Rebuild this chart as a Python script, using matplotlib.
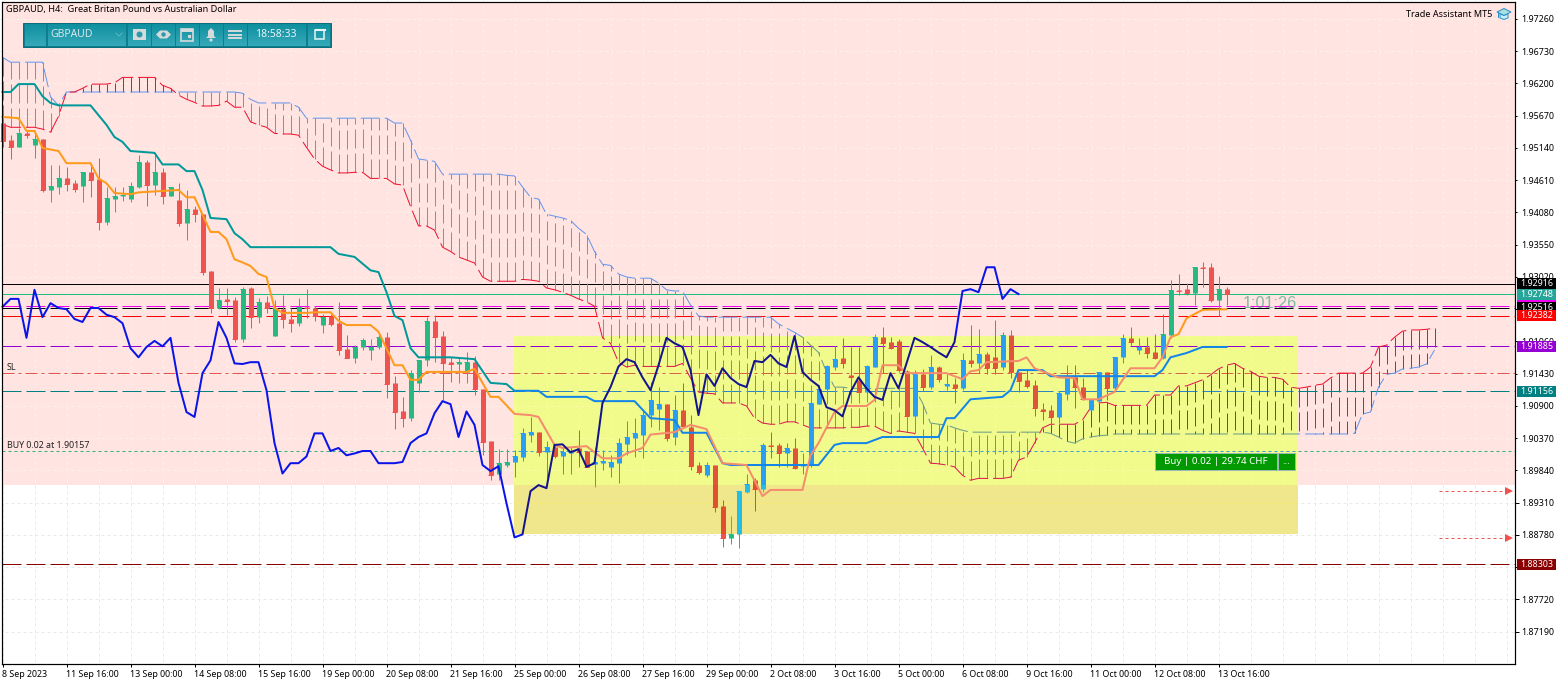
import numpy as np
import matplotlib
matplotlib.use('Agg')
import matplotlib.pyplot as plt
from matplotlib.patches import Rectangle, Polygon, Circle

plt.rcParams['font.family'] = ['Noto Sans', 'DejaVu Sans']
plt.rcParams['lines.scale_dashes'] = False

W, H = 1567, 685
PX = 0.72   # one screen pixel in points at dpi 100

# ----- candles, one entry per H4 bar
candle_open = [
    1.9555,1.9527,1.9516,1.9538,1.9519,1.9529,1.9445,1.9450,1.9465,1.9456,
    1.9451,1.9475,1.9463,1.9392,1.9430,1.9435,1.9430,1.9450,1.9491,1.9453,
    1.9475,1.9435,1.9428,1.9390,1.9413,1.9405,1.9312,1.9251,1.9266,1.9264,
    1.9200,1.9284,1.9236,1.9261,1.9205,1.9249,1.9233,1.9226,1.9253,1.9251,
    1.9223,1.9238,1.9226,1.9184,1.9169,1.9187,1.9182,1.9187,1.9203,1.9128,
    1.9081,1.9070,1.9128,1.9165,1.9230,1.9205,1.9162,1.9159,1.9146,1.9162,
    1.9118,1.9032,1.8979,1.8993,1.8998,1.9006,1.9043,1.9047,1.9014,1.9022,
    1.9007,1.9012,1.9021,1.9016,1.8995,1.8996,1.8990,1.8996,1.9027,1.9037,
    1.9043,1.9075,1.9085,1.9093,1.9039,1.9083,1.9055,1.8993,1.8976,1.8993,
    1.8925,1.8873,1.8880,1.8948,1.8968,1.8953,1.9026,1.9026,1.9012,1.9021,
    1.8991,1.8993,1.9093,1.9118,1.9154,1.9169,1.9141,1.9133,1.9113,1.9154,
    1.9203,1.9195,1.9197,1.9147,1.9073,1.9142,1.9121,1.9154,1.9123,1.9126,
    1.9120,1.9165,1.9160,1.9175,1.9170,1.9154,1.9207,1.9146,1.9133,1.9124,
    1.9085,1.9083,1.9072,1.9110,1.9137,1.9121,1.9083,1.9098,1.9146,1.9120,
    1.9170,1.9202,1.9182,1.9187,1.9178,1.9169,1.9207,1.9281,1.9282,1.9276,
    1.9318,1.9318,1.9264,1.9282]
candle_high = [
    1.9560,1.9535,1.9547,1.9543,1.9540,1.9529,1.9486,1.9486,1.9483,1.9461,
    1.9475,1.9486,1.9497,1.9450,1.9450,1.9450,1.9458,1.9502,1.9494,1.9502,
    1.9481,1.9450,1.9456,1.9445,1.9418,1.9405,1.9312,1.9284,1.9284,1.9269,
    1.9286,1.9286,1.9267,1.9271,1.9264,1.9272,1.9251,1.9267,1.9282,1.9254,
    1.9241,1.9241,1.9261,1.9207,1.9190,1.9202,1.9200,1.9208,1.9212,1.9139,
    1.9105,1.9149,1.9165,1.9236,1.9240,1.9213,1.9170,1.9170,1.9178,1.9172,
    1.9118,1.9032,1.9019,1.9019,1.9017,1.9054,1.9072,1.9047,1.9032,1.9026,
    1.9022,1.9022,1.9050,1.9016,1.9022,1.9017,1.9009,1.9037,1.9065,1.9070,
    1.9083,1.9129,1.9121,1.9093,1.9108,1.9128,1.9075,1.8998,1.8998,1.8993,
    1.8935,1.8910,1.8950,1.8979,1.8971,1.9029,1.9047,1.9029,1.9029,1.9037,
    1.9012,1.9095,1.9124,1.9157,1.9188,1.9202,1.9187,1.9187,1.9157,1.9208,
    1.9220,1.9203,1.9200,1.9149,1.9149,1.9151,1.9174,1.9155,1.9142,1.9136,
    1.9177,1.9223,1.9216,1.9178,1.9231,1.9211,1.9215,1.9146,1.9149,1.9133,
    1.9095,1.9091,1.9115,1.9157,1.9157,1.9136,1.9102,1.9146,1.9146,1.9170,
    1.9208,1.9220,1.9202,1.9203,1.9208,1.9241,1.9297,1.9307,1.9292,1.9318,
    1.9326,1.9325,1.9303,1.9285]
candle_low = [
    1.9516,1.9496,1.9516,1.9530,1.9497,1.9441,1.9425,1.9438,1.9443,1.9441,
    1.9425,1.9433,1.9379,1.9387,1.9409,1.9427,1.9425,1.9448,1.9418,1.9436,
    1.9422,1.9435,1.9386,1.9363,1.9393,1.9305,1.9243,1.9249,1.9240,1.9195,
    1.9195,1.9218,1.9226,1.9243,1.9205,1.9218,1.9212,1.9221,1.9235,1.9230,
    1.9210,1.9221,1.9174,1.9169,1.9160,1.9182,1.9165,1.9184,1.9103,1.9052,
    1.9055,1.9065,1.9113,1.9155,1.9162,1.9100,1.9129,1.9128,1.9128,1.9108,
    1.9009,1.8968,1.8968,1.8990,1.8973,1.8999,1.9031,1.9007,1.8971,1.9004,
    1.8979,1.8979,1.8990,1.8990,1.8957,1.8984,1.8973,1.8963,1.9009,1.9006,
    1.9004,1.9055,1.9050,1.9032,1.9026,1.9055,1.8984,1.8979,1.8973,1.8916,
    1.8858,1.8863,1.8857,1.8947,1.8917,1.8948,1.9004,1.8990,1.8990,1.8986,
    1.8979,1.8990,1.9093,1.9116,1.9149,1.9152,1.9119,1.9113,1.9113,1.9154,
    1.9144,1.9184,1.9146,1.9073,1.9073,1.9115,1.9118,1.9129,1.9116,1.9095,
    1.9116,1.9154,1.9144,1.9142,1.9142,1.9149,1.9136,1.9113,1.9119,1.9073,
    1.9067,1.9059,1.9062,1.9100,1.9087,1.9100,1.9081,1.9097,1.9100,1.9116,
    1.9160,1.9190,1.9175,1.9169,1.9167,1.9167,1.9202,1.9272,1.9272,1.9256,
    1.9285,1.9261,1.9238,1.9256]
candle_close = [
    1.9525,1.9516,1.9538,1.9535,1.9529,1.9445,1.9451,1.9465,1.9455,1.9446,
    1.9475,1.9461,1.9392,1.9431,1.9435,1.9436,1.9451,1.9491,1.9453,1.9475,
    1.9435,1.9450,1.9390,1.9413,1.9405,1.9310,1.9251,1.9264,1.9263,1.9200,
    1.9282,1.9236,1.9261,1.9251,1.9251,1.9233,1.9226,1.9253,1.9251,1.9238,
    1.9236,1.9225,1.9182,1.9169,1.9187,1.9198,1.9187,1.9203,1.9126,1.9080,
    1.9070,1.9144,1.9165,1.9230,1.9203,1.9160,1.9159,1.9162,1.9162,1.9118,
    1.9031,1.8976,1.8996,1.8998,1.9007,1.9045,1.9047,1.9014,1.9022,1.9007,
    1.9014,1.9014,1.9014,1.8990,1.8998,1.8999,1.8998,1.9029,1.9039,1.9045,
    1.9076,1.9100,1.9093,1.9037,1.9083,1.9057,1.8991,1.8981,1.8993,1.8924,
    1.8873,1.8880,1.8950,1.8961,1.8953,1.9026,1.9024,1.9012,1.9021,1.8988,
    1.8993,1.9095,1.9118,1.9155,1.9167,1.9160,1.9137,1.9113,1.9155,1.9203,
    1.9193,1.9185,1.9149,1.9073,1.9142,1.9121,1.9154,1.9134,1.9126,1.9120,
    1.9165,1.9160,1.9175,1.9152,1.9152,1.9207,1.9146,1.9131,1.9123,1.9086,
    1.9081,1.9072,1.9111,1.9137,1.9121,1.9102,1.9102,1.9146,1.9120,1.9170,
    1.9202,1.9195,1.9187,1.9177,1.9169,1.9208,1.9281,1.9279,1.9276,1.9318,
    1.9316,1.9264,1.9282,1.9274]

# ----- ichimoku lines, kijun and tenkan kept at the bars where they turn
kijun_bar = [0,1,2,4,5,6,7,11,12,13,14,15,16,19,20,22,23,24,25,26,28,29,30,31,41,42,44,46,47,48,49,50,51,52,56,59,61,63,64,67,68,73,74,79,81,84,85,88,90,91,102,104,105,108,110,117,118,119,121,125,126,127,130,131,144,145,146,148,150,153]
kijun_price = [1.9606,1.9606,1.9619,1.9619,1.9599,1.9588,1.9584,1.9584,1.9568,1.9552,1.9532,1.9524,1.9509,1.9506,1.9487,1.9487,1.9476,1.9476,1.9445,1.9399,1.9397,1.9374,1.9364,1.9351,1.9351,1.9340,1.9335,1.9313,1.9310,1.9277,1.9238,1.9231,1.9185,1.9170,1.9170,1.9167,1.9128,1.9126,1.9115,1.9115,1.9105,1.9105,1.9098,1.9098,1.9070,1.9067,1.9046,1.9046,1.8996,1.8993,1.8993,1.9026,1.9029,1.9029,1.9039,1.9039,1.9070,1.9070,1.9101,1.9105,1.9116,1.9149,1.9149,1.9139,1.9139,1.9149,1.9170,1.9177,1.9187,1.9187]
tenkan_bar = [0,2,3,4,5,7,8,11,12,13,14,16,17,22,23,24,26,27,28,29,30,31,32,33,34,35,38,39,41,42,43,46,47,49,50,51,52,53,58,59,61,62,64,66,67,69,70,73,75,77,78,80,81,84,86,88,90,93,95,96,100,101,102,104,105,108,109,110,112,113,118,120,121,122,123,127,128,129,132,134,135,137,139,141,144,145,146,147,148,150,153]
tenkan_price = [1.9565,1.9563,1.9542,1.9542,1.9514,1.9509,1.9489,1.9489,1.9464,1.9456,1.9440,1.9438,1.9441,1.9445,1.9433,1.9433,1.9376,1.9376,1.9364,1.9331,1.9326,1.9320,1.9307,1.9302,1.9251,1.9243,1.9243,1.9244,1.9244,1.9230,1.9223,1.9223,1.9212,1.9157,1.9157,1.9133,1.9133,1.9146,1.9146,1.9151,1.9105,1.9105,1.9077,1.9075,1.9072,1.9026,1.9021,1.9024,1.9004,1.9004,1.9012,1.9021,1.9043,1.9047,1.9059,1.9052,1.8996,1.8993,1.8942,1.8952,1.8952,1.9009,1.9029,1.9080,1.9090,1.9090,1.9100,1.9157,1.9157,1.9144,1.9144,1.9134,1.9147,1.9149,1.9162,1.9164,1.9170,1.9152,1.9137,1.9136,1.9101,1.9101,1.9113,1.9152,1.9152,1.9170,1.9203,1.9208,1.9234,1.9248,1.9249]
chikou_price = [
    1.9253,1.9266,1.9266,1.9202,1.9281,1.9236,1.9259,1.9251,1.9249,1.9233,
    1.9228,1.9251,1.9251,1.9240,1.9236,1.9226,1.9185,1.9170,1.9187,1.9197,
    1.9188,1.9202,1.9128,1.9080,1.9072,1.9144,1.9165,1.9228,1.9202,1.9160,
    1.9159,1.9162,1.9162,1.9116,1.9029,1.8979,1.8996,1.8996,1.9007,1.9045,
    1.9045,1.9016,1.9021,1.9009,1.9012,1.9016,1.9016,1.8996,1.8996,1.8996,
    1.8998,1.9029,1.9039,1.9045,1.9078,1.9098,1.9093,1.9039,1.9081,1.9059,
    1.8993,1.8983,1.8991,1.8930,1.8874,1.8879,1.8950,1.8960,1.8955,1.9026,
    1.9027,1.9014,1.9019,1.8990,1.8996,1.9095,1.9121,1.9155,1.9167,1.9162,
    1.9137,1.9116,1.9157,1.9202,1.9193,1.9187,1.9149,1.9075,1.9142,1.9123,
    1.9152,1.9136,1.9126,1.9121,1.9164,1.9162,1.9174,1.9160,1.9154,1.9205,
    1.9146,1.9133,1.9123,1.9088,1.9083,1.9073,1.9113,1.9137,1.9119,1.9105,
    1.9100,1.9144,1.9119,1.9160,1.9202,1.9195,1.9187,1.9178,1.9170,1.9195,
    1.9279,1.9282,1.9277,1.9318,1.9318,1.9266,1.9282,1.9274]
span_a = [
    1.9553,1.9548,1.9548,1.9548,1.9548,1.9545,1.9540,1.9566,1.9606,1.9606,
    1.9612,1.9619,1.9619,1.9619,1.9621,1.9630,1.9630,1.9630,1.9630,1.9630,
    1.9617,1.9612,1.9601,1.9594,1.9589,1.9583,1.9583,1.9584,1.9591,1.9581,
    1.9581,1.9557,1.9552,1.9548,1.9538,1.9537,1.9537,1.9535,1.9515,1.9496,
    1.9484,1.9478,1.9473,1.9473,1.9474,1.9474,1.9464,1.9464,1.9464,1.9455,
    1.9453,1.9418,1.9386,1.9386,1.9379,1.9351,1.9344,1.9335,1.9330,1.9325,
    1.9302,1.9295,1.9295,1.9295,1.9295,1.9298,1.9297,1.9295,1.9284,1.9281,
    1.9277,1.9272,1.9266,1.9261,1.9254,1.9202,1.9193,1.9162,1.9154,1.9157,
    1.9155,1.9155,1.9155,1.9155,1.9155,1.9160,1.9136,1.9113,1.9111,1.9110,
    1.9095,1.9095,1.9095,1.9090,1.9070,1.9062,1.9060,1.9060,1.9064,1.9064,
    1.9059,1.9054,1.9054,1.9054,1.9054,1.9054,1.9055,1.9055,1.9057,1.9057,
    1.9050,1.9045,1.9049,1.9047,1.9045,1.9021,1.8996,1.8995,1.8993,1.8990,
    1.8976,1.8968,1.8971,1.8971,1.8971,1.8971,1.8973,1.9001,1.9006,1.9029,
    1.9054,1.9060,1.9060,1.9060,1.9060,1.9067,1.9087,1.9095,1.9096,1.9091,
    1.9091,1.9091,1.9091,1.9091,1.9108,1.9108,1.9108,1.9123,1.9123,1.9128,
    1.9133,1.9141,1.9151,1.9157,1.9160,1.9152,1.9147,1.9139,1.9137,1.9137,
    1.9134,1.9121,1.9119,1.9121,1.9124,1.9126,1.9136,1.9144,1.9144,1.9144,
    1.9144,1.9154,1.9187,1.9190,1.9203,1.9213,1.9215,1.9215,1.9216,1.9218]
span_b = [
    1.9663,1.9655,1.9655,1.9655,1.9655,1.9655,1.9598,1.9584,1.9606,1.9606,
    1.9606,1.9606,1.9606,1.9606,1.9606,1.9606,1.9606,1.9606,1.9606,1.9606,
    1.9606,1.9606,1.9606,1.9606,1.9606,1.9606,1.9606,1.9606,1.9606,1.9606,
    1.9604,1.9594,1.9588,1.9588,1.9588,1.9588,1.9588,1.9581,1.9563,1.9563,
    1.9563,1.9563,1.9563,1.9563,1.9563,1.9563,1.9563,1.9563,1.9563,1.9555,
    1.9555,1.9527,1.9496,1.9494,1.9492,1.9471,1.9471,1.9471,1.9471,1.9471,
    1.9471,1.9471,1.9471,1.9469,1.9468,1.9450,1.9433,1.9430,1.9405,1.9402,
    1.9399,1.9395,1.9382,1.9372,1.9344,1.9323,1.9321,1.9307,1.9302,1.9300,
    1.9300,1.9300,1.9292,1.9281,1.9279,1.9279,1.9256,1.9238,1.9236,1.9236,
    1.9236,1.9236,1.9236,1.9236,1.9236,1.9236,1.9236,1.9225,1.9218,1.9211,
    1.9203,1.9190,1.9178,1.9146,1.9121,1.9121,1.9119,1.9119,1.9119,1.9119,
    1.9119,1.9119,1.9119,1.9119,1.9119,1.9095,1.9062,1.9060,1.9059,1.9054,
    1.9050,1.9047,1.9047,1.9047,1.9047,1.9047,1.9047,1.9047,1.9047,1.9047,
    1.9047,1.9045,1.9039,1.9032,1.9029,1.9036,1.9039,1.9041,1.9042,1.9044,
    1.9044,1.9044,1.9044,1.9044,1.9044,1.9044,1.9044,1.9044,1.9044,1.9044,
    1.9044,1.9044,1.9044,1.9044,1.9044,1.9044,1.9044,1.9044,1.9044,1.9044,
    1.9044,1.9044,1.9044,1.9044,1.9044,1.9044,1.9044,1.9044,1.9044,1.9045,
    1.9077,1.9080,1.9121,1.9142,1.9144,1.9151,1.9152,1.9154,1.9159,1.9182]

# ----- horizontal levels, price tags and axis labels
level_black_solid = 1.92906
level_green_solid = 1.92738
level_magenta = 1.92550
level_black_dash = 1.92516
level_red = 1.92382
level_purple = 1.91885
level_sl = 1.91434
level_teal = 1.91140
level_buy = 1.90157
level_darkred = 1.88303
arrow_prices = [1.8950, 1.8873]
zone_top, zone_mid, zone_bottom = 1.9205, 1.89608, 1.88794
zone_start, zone_end = 63.9, 161.9
arrow_start, arrow_end = 179.6, 188.3

# 1.92490 and 1.88250 sit behind the price tags, so they carry no label
price_ticks = [1.97260,1.96730,1.96200,1.95670,1.95140,1.94610,1.94080,1.93550,1.93020,1.92490,
               1.91960,1.91430,1.90900,1.90370,1.89840,1.89310,1.88780,1.88250,1.87720,1.87190]
price_labels = ['1.97260','1.96730','1.96200','1.95670','1.95140','1.94610','1.94080','1.93550','1.93020','',
                '1.91960','1.91430','1.90900','1.90370','1.89840','1.89310','1.88780','','1.87720','1.87190']
date_labels = ['8 Sep 2023','11 Sep 16:00','13 Sep 00:00','14 Sep 08:00','15 Sep 16:00','19 Sep 00:00',
               '20 Sep 08:00','21 Sep 16:00','25 Sep 00:00','26 Sep 08:00','27 Sep 16:00','29 Sep 00:00',
               '2 Oct 08:00','3 Oct 16:00','5 Oct 00:00','6 Oct 08:00','9 Oct 16:00','11 Oct 00:00',
               '12 Oct 08:00','13 Oct 16:00']
tag_prices = [level_black_solid, level_green_solid, level_magenta, level_black_dash, level_red, level_purple, level_teal, level_darkred]
tag_labels = ['1.92916', '1.92748', '', '1.92516', '1.92382', '1.91885', '1.91156', '1.88303']
tag_colors = ['black', '#26A69A', '#EE00EE', 'black', '#FF0000', '#9400D3', '#008080', '#8B0000']

# colours change under each background, the terminal blends the zones with the chart
white = dict(bg='white', grid='#EAEAEA', up='#26BA82', down='#EF5350', kijun='#009999', tenkan='#FF9A1A',
             chikou='#0A14E8', a='#EE1030', b='#6495ED', sl='#E85050', teal='#008080', buy='#2EB37C')
pink = dict(white, bg='#FFE4E1', grid='#F6F5E6')
yellow = dict(white, bg='#F0FB8C', grid='#FAFAA8', up='#2A9DF5', down='#E2533C', kijun='#1485E8', tenkan='#F58C6E',
              chikou='#14148C', a='#DC1450', b='#6C9A8B', sl='#D4643A', teal='#2E86C0', buy='#3B9FD0')
tan = dict(yellow, bg='#F0E68C', grid='#FBEA6A', up='#25BCE8', down='#E0502E')

fig = plt.figure(figsize=(W / 100, H / 100), dpi=100, facecolor='white')
ax = fig.add_axes([2 / W, 1 - 664 / H, 1513 / W, 662 / H])
ax.set_xlim(-0.0625, 189.0625)
ax.set_ylim(1.97572 - 0.00016434 * 664, 1.97572 - 0.00016434 * 2)

opens = np.array(candle_open)
closes = np.array(candle_close)
bars = np.arange(len(opens))
rising = closes >= opens
cloud_bars = np.arange(len(span_a))
cloud_up = np.array(span_b) > np.array(span_a)
chikou_bars = np.arange(len(chikou_price))
grid_bars = np.arange(0, 189, 4)

LONG_DASH = (0, (19 * PX, 5 * PX))
DASH_DOT = (0, (12 * PX, 4 * PX, 3 * PX, 4 * PX))
DOT = (0, (3 * PX, 3 * PX))


def hatch_xy(mask):
    # one dashed stroke per bar, nan keeps the strokes apart
    xs, ys = [], []
    for b in cloud_bars[mask]:
        xs += [b, b, np.nan]
        ys += [span_a[b], span_b[b], np.nan]
    return xs, ys


def draw_layer(pal, zone, z):
    # everything drawn again for one background, cut to that background
    art = []
    if zone is not None:
        x0, x1, y0, y1 = zone
        bg = Rectangle((x0, y0), x1 - x0, y1 - y0, fc=pal['bg'], ec='none', zorder=z)
        ax.add_patch(bg)
    else:
        bg = None
        ax.set_facecolor(pal['bg'])
    grid_ls = (0, (3 * PX, 3 * PX))
    art.append(ax.hlines(price_ticks, -1, 190, color=pal['grid'], lw=PX, linestyle=grid_ls, zorder=z + .1))
    art.append(ax.vlines(grid_bars, 1.86, 1.98, color=pal['grid'], lw=PX, linestyle=grid_ls, zorder=z + .1))

    def level(price, color, ls, lw=PX):
        art.append(ax.hlines(price, -0.0625, 189.0625, color=color, lw=lw, linestyle=ls, zorder=z + .2))

    level(level_black_solid, 'black', '-')
    level(level_green_solid, '#1FBF80', '-')
    level(level_magenta, '#EE00EE', LONG_DASH)
    level(level_black_dash, 'black', LONG_DASH)
    level(level_red, '#FF0000', LONG_DASH)
    level(level_purple, '#9400D3', LONG_DASH)
    level(level_sl, pal['sl'], DASH_DOT)
    level(level_teal, pal['teal'], LONG_DASH)
    level(level_buy, pal['buy'], DOT)
    level(level_darkred, '#8B0000', LONG_DASH)
    art.append(ax.hlines(arrow_prices, arrow_start, arrow_end, color='#F05050', lw=PX, linestyle=DOT, zorder=z + .2))

    # cloud
    xs, ys = hatch_xy(cloud_up)
    art += ax.plot(xs, ys, color=pal['b'], lw=PX, ls=LONG_DASH, zorder=z + .3, dash_capstyle='butt')
    xs, ys = hatch_xy(~cloud_up)
    art += ax.plot(xs, ys, color=pal['a'], lw=PX, ls=LONG_DASH, zorder=z + .3, dash_capstyle='butt')
    art += ax.plot(cloud_bars, span_b, color=pal['b'], lw=PX, ls=LONG_DASH, zorder=z + .3)
    art += ax.plot(cloud_bars, span_a, color=pal['a'], lw=PX, ls=LONG_DASH, zorder=z + .3)

    # candles
    colors = [pal['up'] if r else pal['down'] for r in rising]
    art.append(ax.vlines(bars, candle_low, candle_high, color=colors, lw=PX, zorder=z + .4))
    art.append(ax.vlines(bars, opens, closes, color=colors, lw=5 * PX, capstyle='butt', zorder=z + .4))
    art.append(ax.hlines(closes, bars - 0.31, bars + 0.31, color=colors, lw=PX, zorder=z + .4))

    art += ax.plot(kijun_bar, kijun_price, color=pal['kijun'], lw=2 * PX, zorder=z + .5)
    art += ax.plot(tenkan_bar, tenkan_price, color=pal['tenkan'], lw=2 * PX, zorder=z + .6)
    art += ax.plot(chikou_bars, chikou_price, color=pal['chikou'], lw=2 * PX, zorder=z + .7)

    for a in art:
        if hasattr(a, 'get_segments'):
            a.set_snap(True)
        if bg is not None:
            a.set_clip_path(bg)
    return art


draw_layer(white, None, 1)
draw_layer(pink, (-1, 190, zone_mid, 1.98), 2)
draw_layer(yellow, (zone_start, zone_end, zone_mid, zone_top), 3)
draw_layer(tan, (zone_start, zone_end, zone_bottom, zone_mid), 4)

ax.plot([arrow_end, arrow_end], arrow_prices, ls='none', marker='>', ms=5.5, color='#F05050', mew=0, zorder=6)

for s in ax.spines.values():
    s.set_linewidth(PX * 1.2)
    s.set_zorder(20)
ax.yaxis.tick_right()
ax.set_yticks(price_ticks)
ax.set_yticklabels(price_labels)
ax.set_xticks(np.arange(len(date_labels)) * 8)
ax.set_xticklabels(date_labels, ha='left')
ax.tick_params(axis='y', length=3, width=PX, pad=1.6, labelsize=6.4)
ax.tick_params(axis='x', length=2.5, width=PX, pad=1.5, labelsize=6.4)

# ----- everything that sits on the chart window, in screen pixels
ui = fig.add_axes([0, 0, 1, 1], facecolor='none', zorder=30)
ui.set_xlim(0, W)
ui.set_ylim(H, 0)
ui.axis('off')

for p, lbl, c in zip(tag_prices, tag_labels, tag_colors):
    yp = (1.97572 - p) / 0.00016434
    ui.add_patch(Rectangle((1517, yp - 5.5), 39, 11, fc=c, ec='none'))
    ui.text(1536.5, yp, lbl, color='white', fontsize=6.4, ha='center', va='center')
for lbl, y in [('SL', 367), ('BUY 0.02 at 1.90157', 445.5)]:
    ui.text(7, y, lbl, fontsize=6.4, color='#222222', va='center')
ui.text(6, 9, 'GBPAUD, H4:  Great Britan Pound vs Australian Dollar', fontsize=6.6, color='black', va='center')
ui.text(1406, 14, 'Trade Assistant MT5', fontsize=6.5, color='black', va='center')
ui.text(1243, 303.5, '1:01:26', fontsize=11.7, color='#2E9E7A', alpha=0.6, va='center', family='Liberation Sans')

# hat icon
ui.add_patch(Polygon([(1497, 12), (1504, 8.5), (1511, 12), (1504, 15.5)], fc='#A8E0E0', ec='#2E90C8', lw=PX))
ui.add_patch(Polygon([(1500, 14), (1500, 18), (1504, 19.5), (1508, 18), (1508, 14), (1504, 15.5)],
                     fc='#C8EEF0', ec='#2E90C8', lw=PX))
ui.plot([1498, 1498], [12, 17], color='#2E90C8', lw=PX)

# toolbar
grad = np.linspace(0, 1, 24).reshape(-1, 1)
ui.add_patch(Rectangle((23, 23), 308, 24, fc='#0E7E8C', ec='#0B6E7C', lw=PX))
button_x = [(25, 46), (48, 126), (128, 151), (152, 175), (176, 199), (200, 223), (224, 247), (248, 306), (308, 330)]
for x0, x1 in button_x:
    ui.imshow(grad, extent=(x0, x1, 46, 24), aspect='auto', cmap=matplotlib.colors.LinearSegmentedColormap.from_list(
        'bar', ['#10909F', '#36A9BA']), zorder=2)
ui.set_xlim(0, W)
ui.set_ylim(H, 0)
ui.text(50.5, 34.5, 'GBPAUD', color='#D8E8EA', fontsize=7.5, va='center', zorder=3)
ui.text(276, 34.5, '18:58:33', color='#E8F4F5', fontsize=7.5, va='center', ha='center', zorder=3)
ui.plot([116, 119, 122], [33, 36, 33], color='#5FB4C2', lw=PX, zorder=3)
# camera
ui.add_patch(Rectangle((133, 29), 13, 11, fc='#D5DBDB', ec='none', zorder=3))
ui.add_patch(Circle((139.5, 34.5), 3, fc='#2B9BAC', ec='none', zorder=4))
# eye
ui.add_patch(Polygon([(156, 34.5), (160, 30.5), (167, 30.5), (171, 34.5), (167, 38.5), (160, 38.5)], fc='#D5DBDB', ec='none', zorder=3))
ui.add_patch(Circle((163.5, 34.5), 2.2, fc='#2B9BAC', ec='none', zorder=4))
# calendar
ui.add_patch(Rectangle((181, 29), 12, 12, fc='none', ec='#D5DBDB', lw=1.2, zorder=3))
ui.add_patch(Rectangle((181, 29), 12, 3, fc='#D5DBDB', ec='none', zorder=3))
ui.add_patch(Rectangle((188, 35), 3, 3, fc='#D5DBDB', ec='none', zorder=3))
# bell
ui.add_patch(Polygon([(206, 38), (208, 36), (208, 31), (211, 28), (214, 31), (214, 36), (216, 38)], fc='#D5DBDB', ec='none', zorder=3))
ui.add_patch(Circle((211, 40), 1.6, fc='#D5DBDB', ec='none', zorder=3))
# menu
for y in (31, 34.5, 38):
    ui.plot([229, 241], [y, y], color='#D5DBDB', lw=1.4, zorder=3)
# window
ui.add_patch(Rectangle((314.5, 30), 9, 9, fc='none', ec='#E8F4F5', lw=1.1, zorder=3))
ui.plot([316, 325], [29.5, 29.5], color='#E8F4F5', lw=1.5, zorder=3)

# position panel
ui.add_patch(Rectangle((1155, 453), 122, 17, fc='#009A00', ec='#9DB8B8', lw=PX))
ui.add_patch(Rectangle((1278, 453), 17, 17, fc='#009A00', ec='#9DB8B8', lw=PX))
ui.text(1216, 461.5, 'Buy | 0.02 | 29.74 CHF', color='white', fontsize=7.0, ha='center', va='center')
ui.text(1286.5, 461, '...', color='white', fontsize=7.0, ha='center', va='center')

fig.savefig('out.png', dpi=100)
